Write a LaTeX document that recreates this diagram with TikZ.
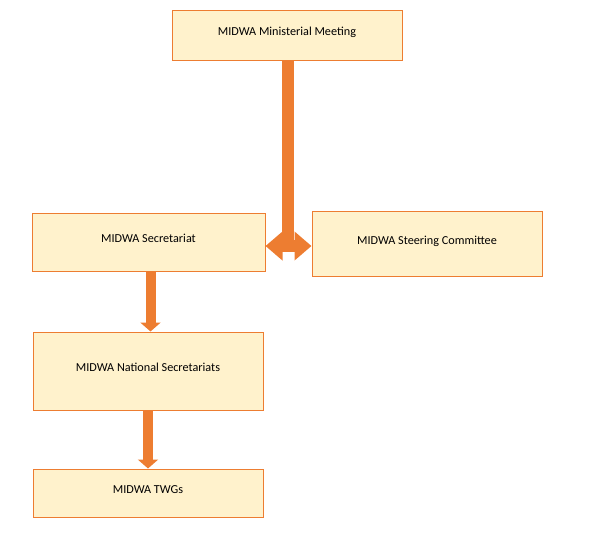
\documentclass[tikz,border=0pt]{standalone}
\usepackage{fontspec}
\setmainfont{Carlito}
\usepackage{xcolor}
\usetikzlibrary{arrows.meta}
\usetikzlibrary{positioning}

\definecolor{midorange}{HTML}{ED7D31}
\definecolor{midfill}{HTML}{FFF2CC}

\begin{document}
\begin{tikzpicture}[
      x=1pt, y=-1pt,
      font=\fontsize{12.2}{14}\selectfont,
      orgbox/.style={draw=midorange, fill=midfill, line width=1pt, inner sep=0pt, text height=9pt, text depth=8pt},
      blockdown/.style={midorange, line width=10pt, -{Triangle[width=20pt,length=9pt]}},
      hubbar/.style={midorange, line width=12pt},
      hubarrow/.style={midorange, line width=12pt, {Triangle[width=28pt,length=17pt]}-{Triangle[width=28pt,length=17pt]}}
    ]
    \useasboundingbox (0,0) rectangle (589,533);

    % Boxes
    \node[orgbox, minimum width=230pt, minimum height=50pt] (meeting) at (287,35) {MIDWA Ministerial Meeting};
    \node[orgbox, minimum width=233pt, minimum height=58pt] (secr) at (148.5,242) {MIDWA Secretariat};
    \node[orgbox, minimum width=230pt, minimum height=65pt] (steer) at (427,243.5) {MIDWA Steering Committee};
    \node[orgbox, minimum width=230pt, minimum height=78pt] (natsec) at (148,371) {MIDWA National Secretariats};
    \node[orgbox, minimum width=230pt, minimum height=48pt] (twg) at (148,493) {MIDWA TWGs};

    % Junction under the meeting
    \coordinate (hub) at (288,246);
    \draw[hubbar] (meeting.south -| hub) -- (hub);
    \draw[hubarrow] (hub -| secr.east) -- (hub -| steer.west);

    % Arrows down
    \draw[blockdown] ([xshift=2pt]secr.south) -- ([xshift=2.5pt]natsec.north);
    \draw[blockdown] (natsec.south) -- (twg.north);
  \end{tikzpicture}
\end{document}
